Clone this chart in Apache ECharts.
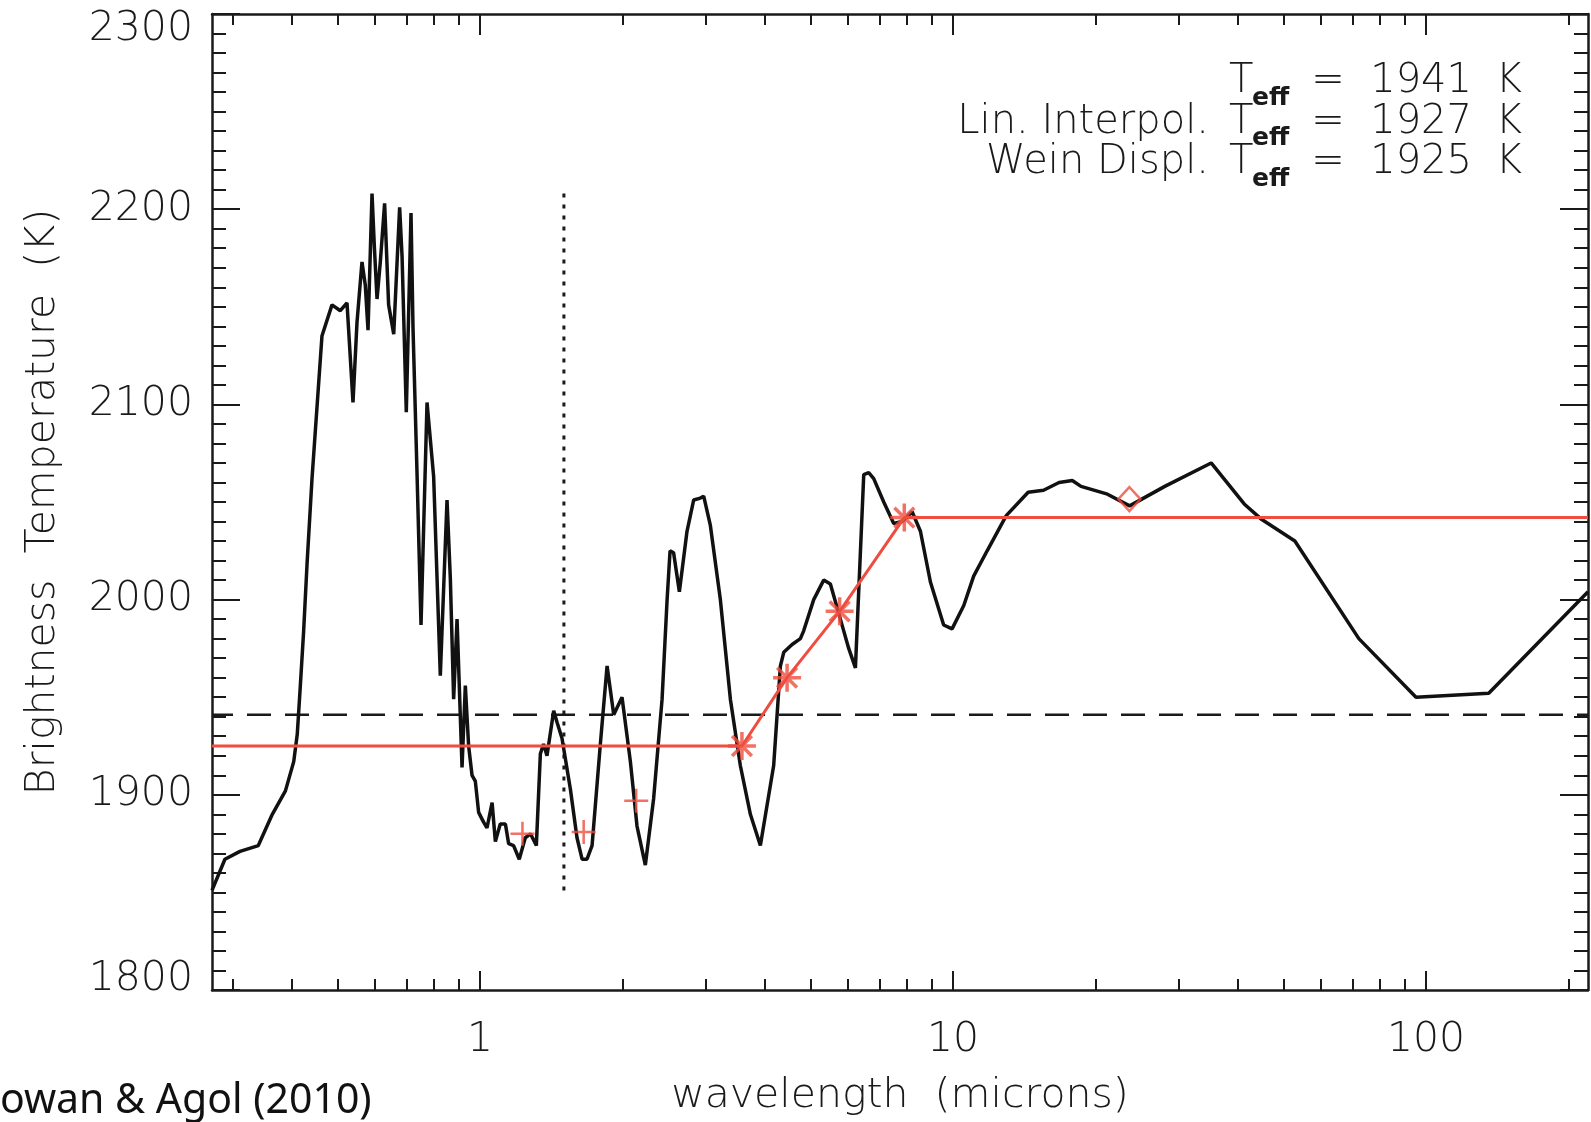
<!DOCTYPE html>
<html>
<head>
<meta charset="utf-8">
<script src="https://cdn.jsdelivr.net/npm/echarts@6.0.0/dist/echarts.min.js"></script>
<style>
  html, body { margin: 0; padding: 0; background: #ffffff; }
  #chart { width: 1591px; height: 1122px; }
</style>
</head>
<body>
<div id="chart"></div>
<script>
// brightness temperature spectrum (microns, K)
const wavelength = [0.2714, 0.289, 0.311, 0.340, 0.364, 0.388, 0.404, 0.411, 0.417, 0.424, 0.431,
  0.4416, 0.4635, 0.4867, 0.5068, 0.5236, 0.5391, 0.5497, 0.5632, 0.5724, 0.5800, 0.5914, 0.5981,
  0.6060, 0.6158, 0.6288, 0.6412, 0.6573, 0.6765, 0.6845, 0.6988, 0.7150, 0.7220, 0.7362, 0.7507,
  0.7730, 0.7983, 0.8246, 0.8520, 0.8658, 0.8799, 0.8946, 0.9166, 0.9314, 0.9465, 0.9623, 0.9778,
  0.9937, 1.018, 1.035, 1.061, 1.078, 1.104, 1.132, 1.150, 1.178, 1.211, 1.247, 1.279, 1.316, 1.342,
  1.363, 1.386, 1.432, 1.456, 1.491, 1.553, 1.604, 1.644, 1.684, 1.726, 1.797, 1.857, 1.918, 1.997,
  2.080, 2.148, 2.237, 2.329, 2.427, 2.487, 2.523, 2.567, 2.640, 2.740, 2.830, 2.924, 2.972, 3.070,
  3.223, 3.384, 3.552, 3.730, 3.916, 4.178, 4.317, 4.388, 4.570, 4.758, 4.835, 5.077, 5.330, 5.506,
  5.781, 6.020, 6.220, 6.477, 6.636, 6.799, 7.139, 7.494, 7.807, 8.196, 8.535, 8.960, 9.557, 9.956,
  10.54, 11.06, 11.81, 12.96, 14.42, 15.54, 16.76, 17.87, 18.65, 21.21, 23.63, 28.04, 35.14, 41.27,
  44.97, 52.81, 72.11, 95.24, 135.7, 220];
const brightTemp = [1851, 1867, 1871, 1874, 1890, 1902, 1917, 1931, 1955, 1984, 2018,
  2062, 2135, 2151, 2148, 2152, 2101, 2142, 2173, 2161, 2138, 2208, 2181,
  2154, 2173, 2203, 2151, 2136, 2201, 2176, 2096, 2198, 2139, 2065, 1987,
  2101, 2063, 1961, 2051, 2011, 1949, 1990, 1914, 1956, 1925, 1910, 1907,
  1891, 1886, 1883, 1896, 1876, 1885, 1885, 1875, 1874, 1867, 1878, 1880, 1874, 1921,
  1926, 1920, 1943, 1937, 1929, 1903, 1878, 1867, 1867, 1874, 1926, 1966, 1941, 1950,
  1917, 1884, 1864, 1898, 1949, 2000, 2025, 2024, 2004, 2035, 2051, 2052, 2053, 2038,
  2000, 1949, 1915, 1890, 1874, 1915, 1966, 1973, 1977, 1980, 1984, 2000, 2010, 2008,
  1990, 1975, 1965, 2064, 2065, 2062, 2050, 2039, 2040, 2045, 2035, 2009, 1987, 1985,
  1997, 2012, 2025, 2043, 2055, 2056, 2060, 2061, 2058, 2054, 2048, 2058, 2070, 2049,
  2041, 2030, 1980, 1950, 1952, 2004];

// J, H, K band points
const nirBandX = [1.23, 1.657, 2.14];
const nirBandY = [1880, 1881, 1897];
// IRAC points and the linear interpolation through them
const iracX = [3.58, 4.46, 5.76, 7.89];
const iracY = [1925, 1960, 1994, 2042];
const interpX = [0.2714, 3.58, 4.46, 5.76, 7.89, 220];
const interpY = [1925, 1925, 1960, 1994, 2042, 2042];
// MIPS 24 micron point
const mipsX = [23.6];
const mipsY = [2051.5];

const teffValue = 1941;
const wienPeakX = [1.505, 1.505];
const wienPeakY = [1851, 2209];

const xMin = 0.2714;
const xMax = 220;
const majorTicksX = [1, 10, 100];
const minorTicksX = [0.3, 0.4, 0.5, 0.6, 0.7, 0.8, 0.9, 2, 3, 4, 5, 6, 7, 8, 9,
  20, 30, 40, 50, 60, 70, 80, 90, 200];

const teffNames = ['', 'Lin. Interpol.', 'Wein Displ.'];
const teffResults = [1941, 1927, 1925];

const zip = (xs, ys) => xs.map((x, i) => [x, ys[i]]);

const ink = '#1a1a1a';
const red = '#ee4d3f';
const labelFont = {
  fontFamily: 'DejaVu Sans',
  fontWeight: 200,
  fontSize: 41,
  color: ink
};

function logAxis(position, ticks, len, withLabel, withLine) {
  return {
    type: 'log',
    position: position,
    min: xMin,
    max: xMax,
    axisLine: { show: withLine, onZero: false, lineStyle: { color: ink, width: 2.5 } },
    axisTick: { show: true, inside: true, length: len, customValues: ticks,
      lineStyle: { color: ink, width: 2 } },
    axisLabel: withLabel ? Object.assign({ show: true, margin: 30, customValues: ticks,
      formatter: v => String(v) }, labelFont) : { show: false },
    splitLine: { show: false },
    minorTick: { show: false },
    minorSplitLine: { show: false }
  };
}

function tempAxis(position, withLabel) {
  return {
    type: 'value',
    position: position,
    min: 1800,
    max: 2300,
    interval: 100,
    axisLine: { show: true, onZero: false, lineStyle: { color: ink, width: 2.5 } },
    axisTick: { show: true, inside: true, length: 28, lineStyle: { color: ink, width: 2 } },
    minorTick: { show: true, splitNumber: 10, length: 14, lineStyle: { color: ink, width: 2 } },
    splitLine: { show: false },
    axisLabel: withLabel ? Object.assign({
      show: true,
      margin: 19,
      formatter: v => v === 2300 ? '{hi|' + v + '}' : (v === 1800 ? '{lo|' + v + '}' : String(v)),
      rich: {
        hi: Object.assign({ padding: [30, 0, 0, 0] }, labelFont),
        lo: Object.assign({ padding: [0, 0, 22, 0] }, labelFont)
      }
    }, labelFont) : { show: false }
  };
}

const xAxes = [
  logAxis('bottom', majorTicksX, 19, true, true),
  logAxis('bottom', minorTicksX, 11, false, false),
  logAxis('top', majorTicksX, 21, false, true),
  logAxis('top', minorTicksX, 11, false, false)
];
xAxes[0].name = 'wavelength  (microns)';
xAxes[0].nameLocation = 'middle';
xAxes[0].nameGap = 86;
xAxes[0].nameTextStyle = Object.assign({}, labelFont);

const yAxes = [tempAxis('left', true), tempAxis('right', false)];
yAxes[0].name = 'Brightness  Temperature  (K)';
yAxes[0].nameLocation = 'middle';
yAxes[0].nameRotate = 90;
yAxes[0].nameGap = 148;
yAxes[0].nameTextStyle = Object.assign({}, labelFont);

// Teff legend block in the top right corner
const legendText = [];
const textBase = { fontFamily: 'DejaVu Sans', fontWeight: 200, fontSize: 40, fill: ink, verticalAlign: 'middle' };
teffResults.forEach((val, i) => {
  const y = 82 + 40.5 * i;
  legendText.push({ type: 'text', x: 1209, y: y,
    style: Object.assign({ text: teffNames[i], align: 'right' }, textBase) });
  legendText.push({ type: 'text', x: 1229, y: y,
    style: Object.assign({ text: 'T', align: 'left' }, textBase) });
  legendText.push({ type: 'text', x: 1252, y: y + 16,
    style: Object.assign({}, textBase, { text: 'eff', align: 'left', fontSize: 25, fontWeight: 'bold' }) });
  legendText.push({ type: 'text', x: 1472, y: y,
    style: Object.assign({ text: '=  ' + val, align: 'right' }, textBase) });
  legendText.push({ type: 'text', x: 1522, y: y,
    style: Object.assign({ text: 'K', align: 'right' }, textBase) });
});
legendText.push({ type: 'text', x: -26, y: 1101,
  style: { text: 'Cowan & Agol (2010)', fontFamily: 'Noto Sans', fontSize: 41, fill: '#111',
    align: 'left', verticalAlign: 'middle' } });

const chart = echarts.init(document.getElementById('chart'), null, { renderer: 'canvas' });

chart.setOption({
  animation: false,
  backgroundColor: '#ffffff',
  grid: { left: 212, right: 3, top: 14, bottom: 130, containLabel: false },
  xAxis: xAxes,
  yAxis: yAxes,
  graphic: legendText,
  series: [
    {
      type: 'line',
      data: zip(wavelength, brightTemp),
      showSymbol: false,
      lineStyle: { color: '#111111', width: 3.5 },
      z: 3
    },
    {
      type: 'line',
      data: [[xMin, teffValue], [xMax, teffValue]],
      showSymbol: false,
      lineStyle: { color: ink, width: 2.5, type: [24, 14], dashOffset: 3 },
      z: 2
    },
    {
      type: 'line',
      data: zip(wienPeakX, wienPeakY),
      showSymbol: false,
      lineStyle: { color: ink, width: 3, type: [4, 7] },
      z: 2
    },
    {
      type: 'line',
      data: zip(interpX, interpY),
      showSymbol: false,
      lineStyle: { color: red, width: 3 },
      z: 4
    },
    {
      type: 'scatter',
      data: zip(iracX, iracY),
      symbol: 'path://M0,-10L0,10M-10,0L10,0M-7.07,-7.07L7.07,7.07M-7.07,7.07L7.07,-7.07',
      symbolSize: 28,
      itemStyle: { color: 'none', borderColor: red, borderWidth: 3.5 },
      z: 5
    },
    {
      type: 'scatter',
      data: zip(nirBandX, nirBandY),
      symbol: 'path://M0,-10L0,10M-10,0L10,0',
      symbolSize: 24,
      itemStyle: { color: 'none', borderColor: red, borderWidth: 2.5 },
      z: 5
    },
    {
      type: 'scatter',
      data: zip(mipsX, mipsY),
      symbol: 'diamond',
      symbolSize: [22, 24],
      itemStyle: { color: 'rgba(0,0,0,0)', borderColor: red, borderWidth: 2.5 },
      z: 5
    }
  ]
});
</script>
</body>
</html>
